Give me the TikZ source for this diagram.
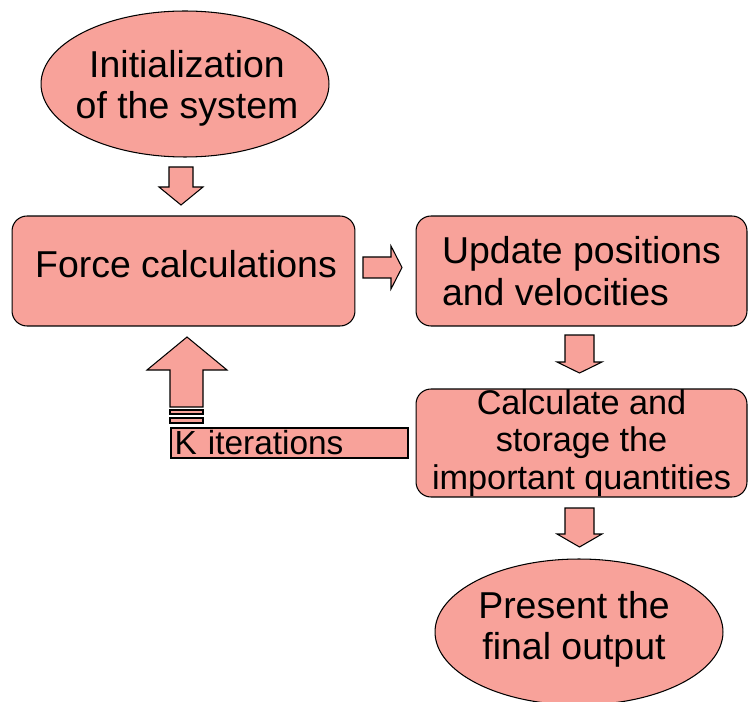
\documentclass[tikz,border=0pt]{standalone}
\usepackage{fontspec}
\setmainfont{Liberation Sans}
\usetikzlibrary{shapes.geometric}
\definecolor{salmon}{RGB}{248,162,154}

\begin{document}
\begin{tikzpicture}[x=0.02cm, y=-0.02cm]
	\tikzset{
		oval/.style={ellipse, draw=black, fill=salmon, line width=0.6pt, minimum width=5.76cm, minimum height=2.92cm, inner sep=0pt},
		box/.style={rectangle, rounded corners=0.3cm, draw=black, fill=salmon, line width=0.6pt},
		txt/.style={align=center, font=\fontsize{21.3}{23.5}\selectfont},
		blk/.style={draw=black, fill=salmon, line width=0.6pt, line join=miter}
	}
	\useasboundingbox (0,0) rectangle (750,702);

	\node[oval] (init) at (185,84) {};
	\node[txt] (inittxt) at (187,88) {Initialization\\of the system};

	\node[box, minimum width=6.86cm, minimum height=2.2cm] (force) at (183.5,271) {};
	\node[txt] (forcetxt) at (186,264.5) {Force calculations};

	\node[box, txt, align=left, minimum width=6.62cm, minimum height=2.2cm] (update) at (581.5,271) {Update positions\\and velocities};

	\node[box, align=center, minimum width=6.62cm, minimum height=2.16cm, inner sep=0pt,
		font=\fontsize{19.5}{21.3}\selectfont] (quant) at (581.5,443) {Calculate and\\storage the\\important quantities};

	\node[oval] (final) at (579,632) {};
	\node[txt] (finaltxt) at (574,629.5) {Present the\\final output};

	\node[rectangle, draw=black, fill=salmon, line width=0.6pt, minimum width=4.74cm, minimum height=0.6cm,
		text width=4.6cm, align=left, inner xsep=0.07cm, inner ysep=0pt,
		font=\fontsize{19}{21}\selectfont] (kiter) at (289.5,443) {K iterations};

	\draw[blk] (169,167) -- (193,167) -- (193,187) -- (203,187) -- (181,205) -- (159,187) -- (169,187) -- cycle;
	\draw[blk] (363,257) -- (391,257) -- (391,246) -- (402,267.5) -- (391,289) -- (391,278) -- (363,278) -- cycle;
	\draw[blk] (565,335) -- (594,335) -- (594,362) -- (602,362) -- (579.5,373) -- (557,362) -- (565,362) -- cycle;
	\draw[blk] (565,508) -- (594,508) -- (594,534) -- (602,534) -- (579.5,547) -- (557,534) -- (565,534) -- cycle;

	\draw[blk] (187,337) -- (227,370) -- (203,370) -- (203,407) -- (170,407) -- (170,370) -- (147,370) -- cycle;
	\draw[blk] (170,410) rectangle (203,414);
	\draw[blk] (170,418) rectangle (203,423);
\end{tikzpicture}
\end{document}
